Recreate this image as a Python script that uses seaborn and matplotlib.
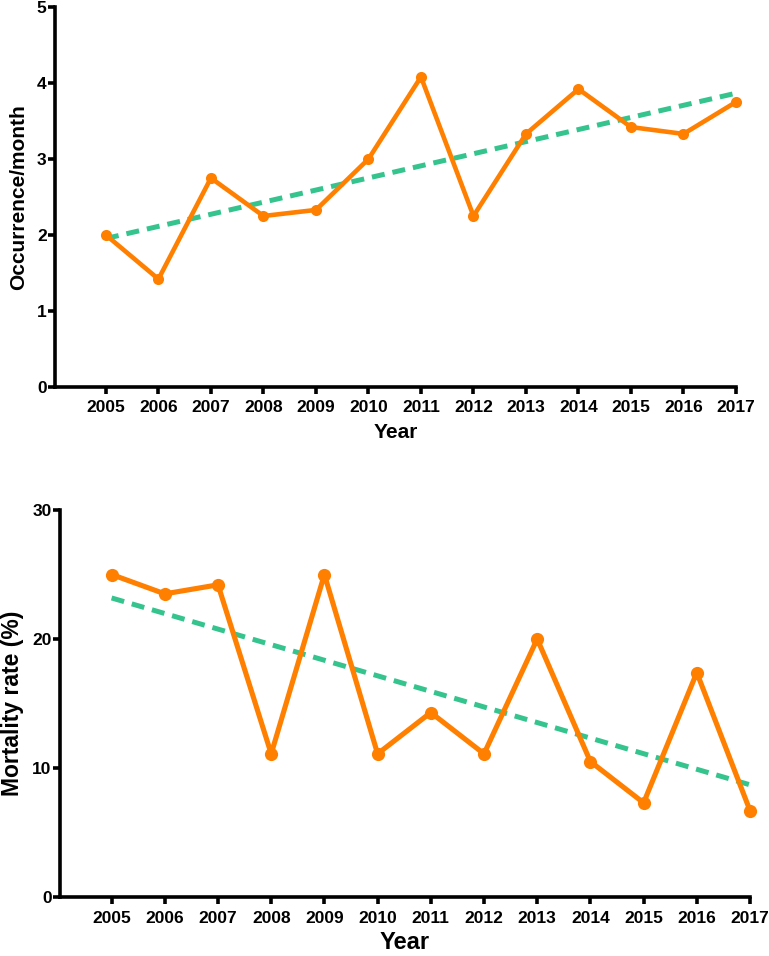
import matplotlib
matplotlib.use("Agg")
import matplotlib.pyplot as plt
import seaborn as sns
import numpy as np
import pandas as pd

years = [2005, 2006, 2007, 2008, 2009, 2010, 2011, 2012, 2013, 2014, 2015, 2016, 2017]
occurrence = [2.0, 1.42, 2.75, 2.25, 2.33, 3.0, 4.08, 2.25, 3.33, 3.92, 3.42, 3.33, 3.75]
mortality = [25.0, 23.5, 24.2, 11.1, 25.0, 11.1, 14.3, 11.1, 20.0, 10.5, 7.3, 17.4, 6.7]
occ_ticks = [0, 1, 2, 3, 4, 5]
mort_ticks = [0, 10, 20, 30]

ORANGE = "#ff8000"
GREEN = "#36c48e"

sns.set_style("ticks")
plt.rcParams["font.family"] = ["Liberation Sans", "DejaVu Sans"]
plt.rcParams["font.weight"] = "bold"
plt.rcParams["text.color"] = "black"
plt.rcParams["axes.labelcolor"] = "black"
plt.rcParams["xtick.color"] = "black"
plt.rcParams["ytick.color"] = "black"

df = pd.DataFrame({"Year": years, "occ": occurrence, "mort": mortality})

fig = plt.figure(figsize=(7.69, 9.56), dpi=100)
W, H = 769, 956


def make_ax(left, right, top, bottom):
    return fig.add_axes([left / W, 1 - bottom / H, (right - left) / W, (bottom - top) / H])


def style(ax, ymax, yticks, ylabel, ylab_size, xlab_size, ylabelpad, xlabelpad, xpad):
    ax.set_xlim(2004.03, 2017)
    ax.set_ylim(0, ymax)
    ax.set_xticks(years)
    ax.set_xticklabels([str(y) for y in years], fontsize=12.5, fontweight="bold", color="black")
    ax.set_yticks(yticks)
    ax.set_yticklabels([str(t) for t in yticks], fontsize=12.5, fontweight="bold", color="black")
    sns.despine(ax=ax)
    for s in ["left", "bottom"]:
        ax.spines[s].set_linewidth(2.6)
        ax.spines[s].set_color("black")
    ax.tick_params(axis="both", width=2.6, length=5, color="black")
    ax.tick_params(axis="x", pad=xpad)
    ax.tick_params(axis="y", pad=1)
    ax.set_ylabel(ylabel, fontsize=ylab_size, fontweight="bold", labelpad=ylabelpad, color="black")
    ax.set_xlabel("Year", fontsize=xlab_size, fontweight="bold", labelpad=xlabelpad, color="black")


# Top panel
ax1 = make_ax(55, 736, 7, 387)
sns.regplot(data=df, x="Year", y="occ", ax=ax1, scatter=False, ci=None,
            line_kws=dict(color=GREEN, lw=3.6, dashes=(2.6, 1.6), zorder=2))
sns.lineplot(data=df, x="Year", y="occ", ax=ax1, color=ORANGE, lw=3.3,
             marker="o", markersize=8, markeredgewidth=0, zorder=3, clip_on=False)
style(ax1, 5, occ_ticks, "Occurrence/month", 15, 15, 6, 6, 4)

# Bottom panel
ax2 = make_ax(60, 750, 510, 897)
sns.regplot(data=df, x="Year", y="mort", ax=ax2, scatter=False, ci=None,
            line_kws=dict(color=GREEN, lw=3.6, dashes=(2.6, 1.6), zorder=2))
sns.lineplot(data=df, x="Year", y="mort", ax=ax2, color=ORANGE, lw=3.7,
             marker="o", markersize=9.5, markeredgewidth=0, zorder=3, clip_on=False)
style(ax2, 30, mort_ticks, "Mortality rate (%)", 16.5, 17, 6, 4, 5)

fig.savefig("out.png", dpi=100)
